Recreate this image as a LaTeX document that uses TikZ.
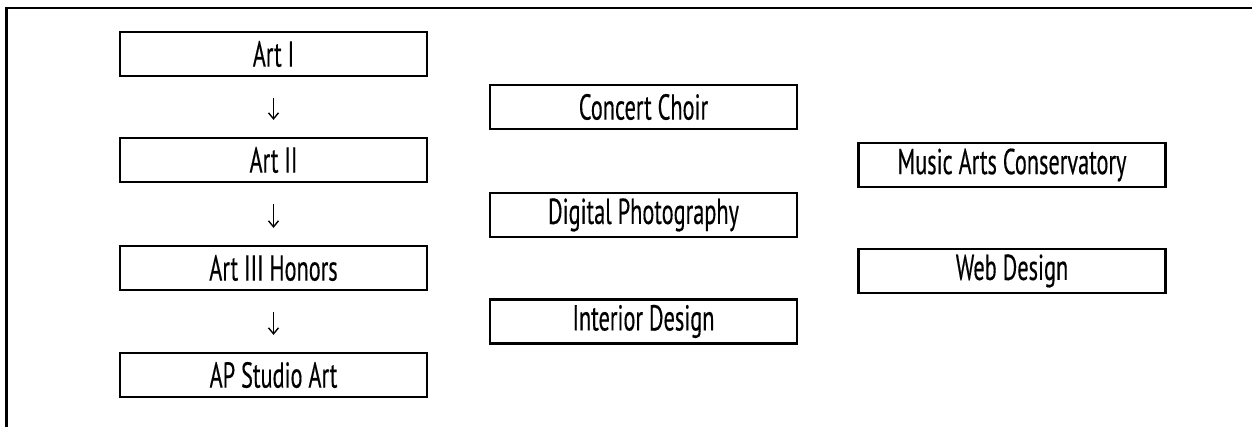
\documentclass[tikz,border=0pt]{standalone}
\usepackage{fontspec}
\setmainfont[FakeStretch=0.62,FakeBold=0.3]{PT Sans}
\usetikzlibrary{arrows.meta}
\begin{document}
\begin{tikzpicture}[x=1pt,y=1pt,
  box/.style={draw=black,line width=2.2pt,minimum width=307pt,minimum height=44pt,inner sep=0pt,font=\fontsize{36}{36}\selectfont},
  flow/.style={line width=1.4pt,-{Straight Barb[length=6pt,width=10pt]}},
  frame/.style={line width=2.6pt}]
\useasboundingbox (0,0) rectangle (1252,426);
% frame (top and left only)
\coordinate (ftl) at (6.5,418);
\coordinate (ftr) at (1260,418);
\coordinate (fbl) at (6.5,-10);
\draw[frame] (fbl) -- (ftl) -- (ftr);
% left column
\node[box] (a1) at (273.5,372) {Art I};
\node[box] (a2) at (273.5,266) {Art II};
\node[box] (a3) at (273.5,158) {Art III Honors};
\node[box] (a4) at (273.5,51) {AP Studio Art};
% middle column
\node[box] (m1) at (643.5,319) {Concert Choir};
\node[box] (m2) at (643.5,211) {Digital Photography};
\node[box] (m3) at (643.5,104.5) {Interior Design};
% right column
\node[box] (r1) at (1012,261) {Music Arts Conservatory};
\node[box] (r2) at (1012,155) {Web Design};
% arrows
\draw[flow,shorten <=21pt,shorten >=17pt] (a1.south) -- (a2.north);
\draw[flow,shorten <=21pt,shorten >=17pt] (a2.south) -- (a3.north);
\draw[flow,shorten <=21pt,shorten >=17pt] (a3.south) -- (a4.north);
\end{tikzpicture}
\end{document}
